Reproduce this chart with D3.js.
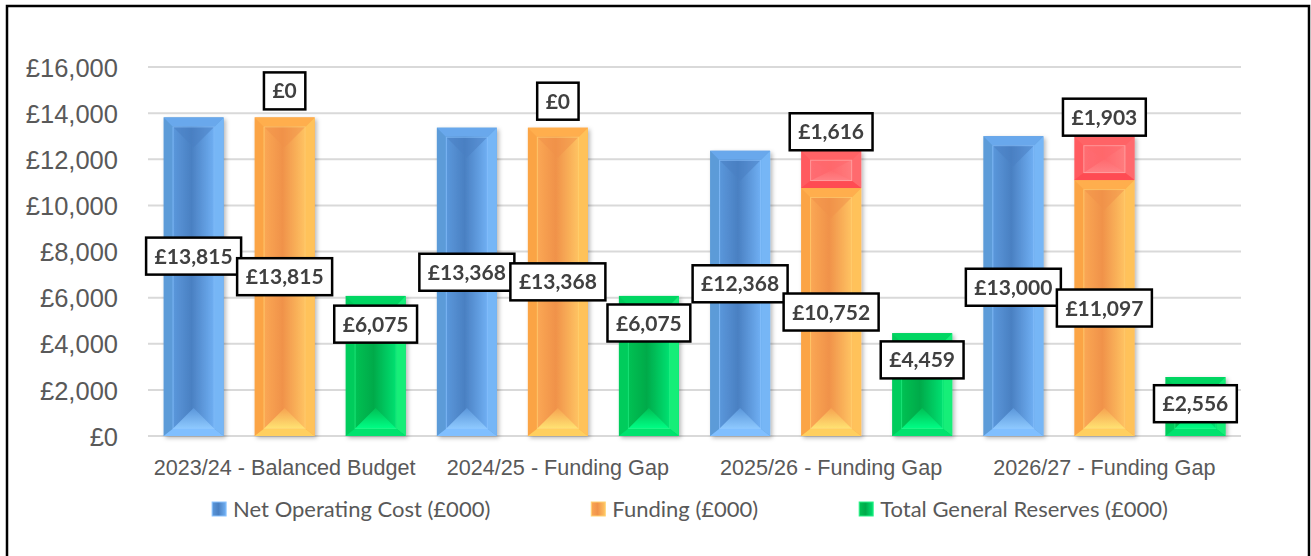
<!DOCTYPE html>
<html lang="en">
<head>
  <meta charset="UTF-8">
  <title>Funding gap</title>
  <style>
    body { margin: 0; background: #ffffff; }
    svg { display: block; font-family: Lato, "Open Sans", sans-serif; }
    .tick-label { fill: #595959; font-size: 25.5px; }
    .cat-label { fill: #595959; font-size: 21.6px; }
    .legend-text { fill: #595959; font-size: 22px; }
    .data-label { fill: #404040; font-size: 21px; font-weight: bold; }
  </style>
  <script type="text/javascript" src="https://cdnjs.cloudflare.com/ajax/libs/d3/7.8.5/d3.min.js"></script>
</head>
<body>
<script type="text/javascript">

  var categories = ["2023/24 - Balanced Budget", "2024/25 - Funding Gap", "2025/26 - Funding Gap", "2026/27 - Funding Gap"];
  var netCost = [13815, 13368, 12368, 13000];
  var funding = [13815, 13368, 10752, 11097];
  var fundingGap = [0, 0, 1616, 1903];
  var reserves = [6075, 6075, 4459, 2556];
  var yTicks = [0, 2000, 4000, 6000, 8000, 10000, 12000, 14000, 16000];
  var seriesNames = ["Net Operating Cost (£000)", "Funding (£000)", "Total General Reserves (£000)"];

  // where the hand-placed labels sit, in y-axis units
  var costLabelAt = [7800, 7100, 6600, 6450];
  var reserveLabelAt = [4850, 4900, 3300, 1400];

  var W = 1311, H = 556;
  var fmt = function(v) { return "£" + d3.format(",")(v); };

  var palettes = {
    blue:   {frame: "#5b9bd8", right: "#76b6f6", top: "#69a8ec", bottom: "#80bfff", inL: "#5b98dc", inC: "#4a80c2", inR: "#70b0f4", triTop: "#5a96da", triBot: "#8fcaff", edge: "#8cc4ff"},
    orange: {frame: "#fba444", right: "#ffc25a", top: "#ffae4e", bottom: "#ffcf5e", inL: "#fba854", inC: "#f0924a", inR: "#ffc462", triTop: "#f6a250", triBot: "#ffe473", edge: "#ffd272"},
    green:  {frame: "#00cc5c", right: "#12ee78", top: "#00d662", bottom: "#00e26e", inL: "#00c253", inC: "#00aa4a", inR: "#00e272", triTop: "#00bf54", triBot: "#00ff86", edge: "#2af288"},
    red:    {frame: "#ff5a5f", right: "#ff6a6e", top: "#ff6466", bottom: "#ff4c52", inL: "#ff6d72", inC: "#ff676c", inR: "#ff7c7e", triTop: "#ff6a6e", triBot: "#ff8286", edge: "#ffaaaa"}
  };

  var svg = d3.select("body")
    .append("svg")
    .attr("width", W)
    .attr("height", H);

  var defs = svg.append("defs");
  defs.append("filter")
    .attr("id", "shadow")
    .attr("x", "-20%").attr("y", "-5%").attr("width", "140%").attr("height", "115%")
    .append("feDropShadow")
    .attr("dx", 2).attr("dy", 2).attr("stdDeviation", 2)
    .attr("flood-color", "#000").attr("flood-opacity", 0.28);

  Object.keys(palettes).forEach(function(k) {
    var p = palettes[k];
    var gh = defs.append("linearGradient").attr("id", "h-" + k)
      .attr("x1", 0).attr("x2", 1).attr("y1", 0).attr("y2", 0);
    gh.append("stop").attr("offset", "0%").attr("stop-color", p.inL);
    gh.append("stop").attr("offset", "45%").attr("stop-color", p.inC);
    gh.append("stop").attr("offset", "100%").attr("stop-color", p.inR);
    var gv = defs.append("linearGradient").attr("id", "v-" + k)
      .attr("x1", 0).attr("x2", 0).attr("y1", 0).attr("y2", 1);
    gv.append("stop").attr("offset", "0%").attr("stop-color", p.triTop);
    gv.append("stop").attr("offset", "100%").attr("stop-color", p.triBot);
  });

  // outer border
  svg.append("rect")
    .attr("x", 7).attr("y", 6)
    .attr("width", 1302).attr("height", 570)
    .attr("fill", "none")
    .attr("stroke", "#000")
    .attr("stroke-width", 2.5);

  var x = d3.scaleBand()
    .domain(categories)
    .range([148, 1241]);

  var xInner = d3.scaleBand()
    .domain(["cost", "funding", "reserves"])
    .range([0, x.bandwidth()])
    .paddingInner(0.34)
    .paddingOuter(0.171);

  var y = d3.scaleLinear()
    .domain([0, 16000])
    .range([436, 67]);

  // gridlines
  svg.append("g").selectAll("line")
    .data(yTicks)
    .enter()
    .append("line")
    .attr("x1", 148).attr("x2", 1241)
    .attr("y1", function(d) { return y(d); })
    .attr("y2", function(d) { return y(d); })
    .attr("stroke", "#d9d9d9")
    .attr("stroke-width", 2);

  // y axis
  var yAxis = d3.axisLeft(y)
    .tickValues(yTicks)
    .tickFormat(fmt)
    .tickSize(0)
    .tickPadding(0);

  var yg = svg.append("g")
    .attr("transform", "translate(118,0)")
    .call(yAxis);
  yg.select(".domain").remove();
  yg.selectAll("text")
    .attr("class", "tick-label")
    .attr("font-family", null)
    .attr("font-size", null)
    .attr("fill", null)
    .attr("dy", "0.36em");

  // x axis
  var xAxis = d3.axisBottom(x).tickSize(0).tickPadding(0);
  var xg = svg.append("g")
    .attr("transform", "translate(0,475)")
    .call(xAxis);
  xg.select(".domain").remove();
  xg.selectAll("text")
    .attr("class", "cat-label")
    .attr("font-family", null)
    .attr("font-size", null)
    .attr("fill", null)
    .attr("dy", 0);

  function bevel(g, bx, by, bw, bh, key) {
    var p = palettes[key];
    var ins = 9, insB = bh > 30 ? 7 : 5;
    var seg = g.append("g");
    seg.append("rect")
      .attr("x", bx).attr("y", by).attr("width", bw).attr("height", bh)
      .attr("fill", p.frame);
    if (bh < ins * 2 + 4) return;
    var xi = bx + ins, yi = by + ins, wi = bw - 2 * ins, hi = bh - ins - insB;
    seg.append("polygon")
      .attr("points", [[bx, by], [bx + bw, by], [xi + wi, yi], [xi, yi]].join(" "))
      .attr("fill", p.top);
    seg.append("polygon")
      .attr("points", [[bx + bw, by], [bx + bw, by + bh], [xi + wi, yi + hi], [xi + wi, yi]].join(" "))
      .attr("fill", p.right);
    seg.append("polygon")
      .attr("points", [[bx, by + bh], [bx + bw, by + bh], [xi + wi, yi + hi], [xi, yi + hi]].join(" "))
      .attr("fill", p.bottom);
    seg.append("rect")
      .attr("x", xi).attr("y", yi).attr("width", wi).attr("height", hi)
      .attr("fill", "url(#h-" + key + ")");
    var apex = Math.min(wi / 2, hi / 2);
    seg.append("polygon")
      .attr("points", [[xi, yi + hi], [xi + wi, yi + hi], [xi + wi / 2, yi + hi - apex]].join(" "))
      .attr("fill", "url(#v-" + key + ")");
    seg.append("polygon")
      .attr("points", [[xi, yi], [xi + wi, yi], [xi + wi / 2, yi + apex]].join(" "))
      .attr("fill", p.inC)
      .attr("opacity", 0.55);
    seg.append("rect")
      .attr("x", xi + 0.5).attr("y", yi + 0.5).attr("width", wi - 1).attr("height", hi - 1)
      .attr("fill", "none")
      .attr("stroke", p.edge)
      .attr("stroke-opacity", 0.7)
      .attr("stroke-width", 1);
  }

  var bars = svg.append("g").attr("filter", "url(#shadow)");
  var labels = [];

  categories.forEach(function(c, i) {
    var g = bars.append("g").attr("transform", "translate(" + x(c) + ",0)");
    var bw = xInner.bandwidth();
    var xc = xInner("cost"), xf = xInner("funding"), xr = xInner("reserves");

    bevel(g, xc, y(netCost[i]), bw, y(0) - y(netCost[i]), "blue");
    bevel(g, xf, y(funding[i]), bw, y(0) - y(funding[i]), "orange");
    if (fundingGap[i] > 0) {
      bevel(g, xf, y(funding[i] + fundingGap[i]), bw, y(funding[i]) - y(funding[i] + fundingGap[i]), "red");
    }
    bevel(g, xr, y(reserves[i]), bw, y(0) - y(reserves[i]), "green");

    var cx = function(k) { return x(c) + xInner(k) + bw / 2; };
    labels.push({order: 0, x: cx("cost"), cy: y(costLabelAt[i]), v: netCost[i]});
    labels.push({order: 1, x: cx("funding"), cy: y(funding[i] / 2), v: funding[i]});
    labels.push({order: 2, x: cx("reserves"), cy: y(reserveLabelAt[i]), v: reserves[i]});
    var topY = y(funding[i] + fundingGap[i]) - (fundingGap[i] > 0 ? 0.5 : 8);
    labels.push({order: 3, x: cx("funding"), bottom: topY, v: fundingGap[i]});
  });

  labels.sort(function(a, b) { return a.order - b.order; });

  var lg = svg.append("g");
  labels.forEach(function(d) {
    var box = lg.append("g");
    var t = box.append("text")
      .attr("class", "data-label")
      .attr("text-anchor", "middle")
      .attr("dy", "0.36em")
      .text(fmt(d.v));
    var tw = t.node().getComputedTextLength();
    var bh = 37, bw = tw + 17;
    var cy = d.cy !== undefined ? d.cy : d.bottom - bh / 2;
    box.insert("rect", "text")
      .attr("x", d.x - bw / 2).attr("y", cy - bh / 2)
      .attr("width", bw).attr("height", bh)
      .attr("fill", "#fff")
      .attr("stroke", "#000")
      .attr("stroke-width", 2.5);
    t.attr("x", d.x).attr("y", cy);
  });

  // legend
  var legendKeys = ["blue", "orange", "green"];
  var legend = svg.append("g").attr("transform", "translate(0,509)");
  var items = legend.selectAll("g.item")
    .data(seriesNames)
    .enter()
    .append("g")
    .attr("class", "item");

  items.append("rect")
    .attr("x", 0).attr("y", -7)
    .attr("width", 14).attr("height", 14)
    .attr("fill", function(d, i) { return "url(#h-" + legendKeys[i] + ")"; })
    .attr("stroke", function(d, i) { return palettes[legendKeys[i]].edge; })
    .attr("stroke-width", 1);

  items.append("text")
    .attr("class", "legend-text")
    .attr("x", 21)
    .attr("dy", "0.36em")
    .text(function(d) { return d; });

  var widths = [];
  items.each(function() { widths.push(this.getBBox().width); });
  var gapW = 101;
  var total = d3.sum(widths) + gapW * (widths.length - 1);
  var startX = 690 - total / 2;
  items.attr("transform", function(d, i) {
    var off = startX + d3.sum(widths.slice(0, i)) + gapW * i;
    return "translate(" + off + ",0)";
  });

</script>
</body>
</html>
